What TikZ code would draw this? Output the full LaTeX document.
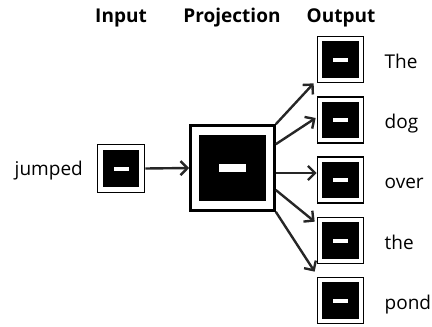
\documentclass[tikz,border=0pt]{standalone}
\usepackage{fontspec}
\setmainfont{Open Sans}
\usetikzlibrary{arrows.meta,calc}
\begin{document}
\begin{tikzpicture}[x=1pt,y=-1pt,
  frame/.style={draw=black,line width=#1,fill=white,inner sep=0pt},
  arr/.style={line width=2.4pt,draw=black!85,-{Straight Barb[length=7pt,width=14pt,line width=2.4pt]}},
  lbl/.style={font=\fontsize{19}{21}\selectfont,inner sep=0pt},
  hdr/.style={font=\fontsize{19}{21}\selectfont\bfseries,inner sep=0pt,anchor=base}
]
\useasboundingbox (0,0) rectangle (432,327);
% input
\node[frame=1.9pt,minimum width=47pt,minimum height=48pt] (in) at (121,168.5) {};
\fill[black] ($(in.north west)+(6.5,6.5)$) rectangle ($(in.south east)+(-6.5,-6.5)$);
\fill[white] ($(in.center)+(-7.5,-2)$) rectangle ($(in.center)+(7.5,2)$);
% projection
\node[frame=2.6pt,minimum width=84pt,minimum height=85pt] (proj) at (232.5,168) {};
\fill[black] ($(proj.north west)+(10,10.5)$) rectangle ($(proj.south east)+(-10,-10.5)$);
\fill[white] ($(proj.center)+(-13.5,-4)$) rectangle ($(proj.center)+(13.5,4)$);
% outputs
\foreach \n/\y/\w in {o1/59.5/The,o2/120/dog,o3/180/over,o4/240.5/the,o5/300.5/pond}{
  \node[frame=1.7pt,minimum width=46pt,minimum height=46pt] (\n) at (340.5,\y) {};
  \fill[black] ($(\n.north west)+(5.5,5.5)$) rectangle ($(\n.south east)+(-5.5,-5.5)$);
  \fill[white] ($(\n.center)+(-7.5,-2)$) rectangle ($(\n.center)+(7.5,2)$);
  \node[lbl,anchor=base west] (\n l) at ($(\n.center)+(44,8.5)$) {\w};
}
% text
\node[lbl,anchor=base east] (jw) at (83,175) {jumped};
\node[hdr] (h1) at (121,22) {Input};
\node[hdr] (h2) at (232,22) {Projection};
\node[hdr] (h3) at (341,22) {Output};
% arrows
\draw[arr] (in.east) -- (proj.west);
\draw[arr] (proj.north east) -- ($(o1.south west)+(-3,0)$);
\draw[arr] ($(proj.north east)+(0,20)$) -- ($(o2.west)+(-1,-2)$);
\draw[arr] ($(proj.east)+(0,5)$) -- ($(o3.west)+(0,-7)$);
\draw[arr] ($(proj.east)+(0,22)$) -- ($(o4.north west)+(-2,5)$);
\draw[arr] (proj.south east) -- ($(o5.north west)+(-2,-5)$);
\end{tikzpicture}
\end{document}
